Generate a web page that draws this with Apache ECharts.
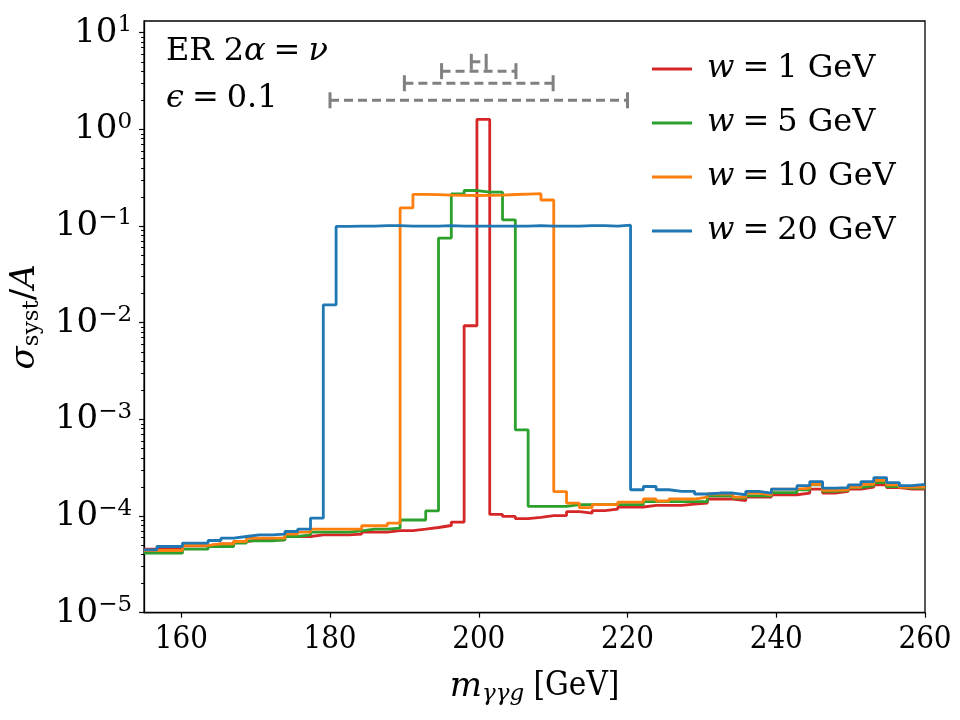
<!DOCTYPE html>
<html>
<head>
<meta charset="utf-8">
<script src="https://cdn.jsdelivr.net/npm/echarts@6/dist/echarts.min.js"></script>
<style>
html, body { margin: 0; background: #fff; }
#chart { width: 960px; height: 720px; }
</style>
</head>
<body>
<div id="chart"></div>
<script>
// histogram binning: 61 bins from 155 to 260 GeV
const binLo = 155, binHi = 260, nBins = 61;

const widthLabels = ['1', '5', '10', '20'];
const colors = ['#d62728', '#2ca02c', '#ff7f0e', '#1f77b4'];

// sigma_syst / A per bin
const w1 = [
  4.54e-5, 4.61e-5, 4.61e-5, 4.92e-5, 4.92e-5, 5.16e-5, 5.16e-5, 5.45e-5, 5.67e-5, 5.67e-5,
  5.67e-5, 6.14e-5, 6.14e-5, 6.39e-5, 6.39e-5, 6.39e-5, 6.5e-5, 6.82e-5, 6.82e-5, 7.08e-5,
  7.08e-5, 7.31e-5, 7.61e-5, 7.98e-5, 8.65e-5, 9.3e-3, 1.27, 1.04e-4, 9.9e-5, 9.4e-5,
  9.7e-5, 1.01e-4, 1.01e-4, 1.11e-4, 1.07e-4, 1.14e-4, 1.18e-4, 1.24e-4, 1.24e-4, 1.29e-4,
  1.29e-4, 1.29e-4, 1.33e-4, 1.36e-4, 1.5e-4, 1.5e-4, 1.44e-4, 1.57e-4, 1.57e-4, 1.66e-4,
  1.66e-4, 1.73e-4, 1.9e-4, 1.73e-4, 1.8e-4, 1.9e-4, 1.99e-4, 2.1e-4, 1.97e-4, 1.9e-4,
  1.9e-4
];
const w5 = [
  4.13e-5, 4.13e-5, 4.13e-5, 4.54e-5, 4.54e-5, 4.84e-5, 4.84e-5, 5.25e-5, 5.54e-5, 5.54e-5,
  5.67e-5, 6.14e-5, 6.39e-5, 6.82e-5, 6.82e-5, 6.82e-5, 7.03e-5, 7.31e-5, 7.31e-5, 7.49e-5,
  9.1e-5, 9.1e-5, 1.13e-4, 0.075, 0.215, 0.233, 0.224, 0.224, 0.116, 7.8e-4,
  1.26e-4, 1.26e-4, 1.26e-4, 1.31e-4, 1.31e-4, 1.31e-4, 1.31e-4, 1.31e-4, 1.31e-4, 1.41e-4,
  1.41e-4, 1.41e-4, 1.41e-4, 1.41e-4, 1.62e-4, 1.62e-4, 1.53e-4, 1.62e-4, 1.62e-4, 1.75e-4,
  1.75e-4, 1.87e-4, 2.1e-4, 1.8e-4, 1.84e-4, 1.97e-4, 2.06e-4, 2.22e-4, 2.02e-4, 1.94e-4,
  1.94e-4
];
const w10 = [
  4.4e-5, 4.4e-5, 4.4e-5, 4.96e-5, 4.96e-5, 5.16e-5, 5.16e-5, 5.45e-5, 5.9e-5, 5.9e-5,
  5.9e-5, 6.5e-5, 6.82e-5, 7.31e-5, 7.31e-5, 7.31e-5, 7.31e-5, 7.93e-5, 7.93e-5, 8.44e-5,
  0.154, 0.213, 0.211, 0.209, 0.208, 0.207, 0.208, 0.209, 0.212, 0.214,
  0.216, 0.186, 1.79e-4, 1.36e-4, 1.22e-4, 1.31e-4, 1.31e-4, 1.39e-4, 1.39e-4, 1.5e-4,
  1.43e-4, 1.5e-4, 1.5e-4, 1.57e-4, 1.69e-4, 1.69e-4, 1.57e-4, 1.73e-4, 1.66e-4, 1.9e-4,
  1.9e-4, 1.94e-4, 2.13e-4, 1.84e-4, 1.87e-4, 1.99e-4, 2.13e-4, 2.34e-4, 2.1e-4, 1.99e-4,
  1.99e-4
];
const w20 = [
  4.47e-5, 4.84e-5, 4.84e-5, 5.25e-5, 5.25e-5, 5.58e-5, 5.9e-5, 6.14e-5, 6.39e-5, 6.39e-5,
  6.5e-5, 6.92e-5, 7.31e-5, 9.51e-5, 0.0153, 0.099, 0.1, 0.1, 0.101, 0.101,
  0.1, 0.1, 0.1, 0.101, 0.1, 0.1, 0.1, 0.1, 0.1, 0.1,
  0.101, 0.1, 0.1, 0.1, 0.101, 0.101, 0.1, 0.102, 1.87e-4, 2.02e-4,
  1.87e-4, 1.8e-4, 1.8e-4, 1.69e-4, 1.73e-4, 1.73e-4, 1.66e-4, 1.8e-4, 1.73e-4, 1.9e-4,
  1.9e-4, 2.06e-4, 2.27e-4, 1.94e-4, 1.97e-4, 2.1e-4, 2.27e-4, 2.5e-4, 2.22e-4, 2.06e-4,
  2.13e-4
];
const allSeries = [w1, w5, w10, w20];

// dashed window markers: [from, to, height]
const brackets = [[180, 220, 2], [190, 210, 3], [195, 205, 4], [199, 201, 5]];

const xTicks = [160, 180, 200, 220, 240, 260];
const yTicks = [1e-5, 1e-4, 1e-3, 1e-2, 1e-1, 1, 10];
const yMinor = [];
for (let e = -5; e <= 0; e++) {
  for (let m = 2; m <= 9; m++) yMinor.push(+(m * Math.pow(10, e)).toPrecision(3));
}

const serif = 'DejaVu Serif';
const textFont = "'DejaVu Serif Condensed', 'Liberation Serif', serif";
const fs = 32;

function stepData(vals) {
  const bw = (binHi - binLo) / nBins;
  const pts = vals.map((v, i) => [binLo + i * bw, v]);
  pts.push([binHi, vals[vals.length - 1]]);
  return pts;
}

const names = widthLabels.map(w => 'w = ' + w + ' GeV');

const series = allSeries.map((vals, i) => ({
  name: names[i],
  type: 'line',
  step: 'end',
  data: stepData(vals),
  symbol: 'none',
  lineStyle: { color: colors[i], width: 2.8 },
  itemStyle: { color: colors[i] },
  z: 3 + i
}));

brackets.forEach(([a, b, y]) => {
  series.push({
    type: 'line',
    data: [[a, y], [b, y]],
    symbol: 'rect',
    symbolSize: [3, 16],
    lineStyle: { color: '#808080', width: 3, type: [9, 5] },
    itemStyle: { color: '#808080' },
    silent: true,
    z: 2
  });
});

const chart = echarts.init(document.getElementById('chart'));
chart.setOption({
  animation: false,
  grid: {
    left: 141.5, right: 35, top: 21, bottom: 107.3,
    show: true, borderColor: '#000', borderWidth: 1.3, backgroundColor: 'transparent'
  },
  legend: {
    data: names,
    orient: 'vertical',
    left: 652, top: 53,
    padding: 0,
    itemGap: 22,
    itemWidth: 40, itemHeight: 3,
    icon: 'rect',
    formatter: n => '{i|w}{r|\u2005=\u2005' + n.slice(4, n.indexOf(' GeV')) + ' GeV}',
    textStyle: {
      padding: [0, 0, 0, 10],
      rich: {
        i: { fontFamily: serif, fontStyle: 'italic', fontSize: fs, lineHeight: 36, color: '#000' },
        r: { fontFamily: serif, fontSize: fs, lineHeight: 36, color: '#000' }
      }
    }
  },
  xAxis: {
    type: 'value', min: binLo, max: binHi,
    axisLine: { show: true, lineStyle: { color: '#000', width: 1.3 } },
    axisTick: { customValues: xTicks, length: 5, lineStyle: { color: '#000', width: 1.2 } },
    axisLabel: { customValues: xTicks, margin: 12, fontFamily: textFont, fontSize: 31, color: '#000' },
    splitLine: { show: false },
    name: '{i|m}{s|\u03b3\u03b3g}{r| [GeV]}',
    nameLocation: 'middle',
    nameGap: 55,
    nameTextStyle: {
      rich: {
        i: { fontFamily: serif, fontStyle: 'italic', fontSize: 34, lineHeight: 38, color: '#000' },
        s: { fontFamily: serif, fontStyle: 'italic', fontSize: 23, lineHeight: 24, verticalAlign: 'bottom', color: '#000' },
        r: { fontFamily: textFont, fontSize: 33, lineHeight: 38, color: '#000' }
      }
    }
  },
  yAxis: [{
    type: 'log', logBase: 10, min: 1e-5, max: Math.pow(10, 1.121),
    axisLine: { show: true, lineStyle: { color: '#000', width: 1.3 } },
    axisTick: { customValues: yTicks, length: 5, lineStyle: { color: '#000', width: 1.2 } },
    axisLabel: {
      customValues: yTicks,
      margin: 12,
      formatter: v => {
        const e = Math.round(Math.log10(v));
        return '{b|10}{s|' + (e < 0 ? '\u2212' + (-e) : e) + '}';
      },
      rich: {
        b: { fontFamily: serif, fontSize: 34, lineHeight: 38, color: '#000' },
        s: { fontFamily: serif, fontSize: 23, lineHeight: 22, verticalAlign: 'top', color: '#000' }
      }
    },
    splitLine: { show: false },
    name: '{i|\u03c3}{s|syst}{r|/}{i|A}',
    nameLocation: 'middle',
    nameRotate: 90,
    nameGap: 82,
    nameTextStyle: {
      rich: {
        i: { fontFamily: serif, fontStyle: 'italic', fontSize: 34, lineHeight: 38, color: '#000' },
        s: { fontFamily: serif, fontSize: 23, lineHeight: 24, verticalAlign: 'bottom', color: '#000' },
        r: { fontFamily: serif, fontSize: 34, lineHeight: 38, color: '#000' }
      }
    }
  }, {
    type: 'log', logBase: 10, min: 1e-5, max: Math.pow(10, 1.121),
    position: 'left',
    axisLine: { show: false },
    axisTick: { customValues: yMinor, length: 3, lineStyle: { color: '#000', width: 1 } },
    axisLabel: { show: false },
    splitLine: { show: false }
  }],
  graphic: [{
    type: 'text', x: 166, y: 52,
    style: {
      text: '{r|ER 2}{i|\u03b1}{r|\u2005=\u2005}{i|\u03bd}',
      verticalAlign: 'middle',
      rich: {
        r: { fontFamily: serif, fontSize: fs, lineHeight: 36, fill: '#000' },
        i: { fontFamily: serif, fontStyle: 'italic', fontSize: fs, lineHeight: 36, fill: '#000' }
      }
    }
  }, {
    type: 'text', x: 166, y: 99,
    style: {
      text: '{i|\u03f5}{r|\u2005=\u20050.1}',
      verticalAlign: 'middle',
      rich: {
        r: { fontFamily: serif, fontSize: fs, lineHeight: 36, fill: '#000' },
        i: { fontFamily: serif, fontStyle: 'italic', fontSize: fs, lineHeight: 36, fill: '#000' }
      }
    }
  }],
  series: series
});
</script>
</body>
</html>
